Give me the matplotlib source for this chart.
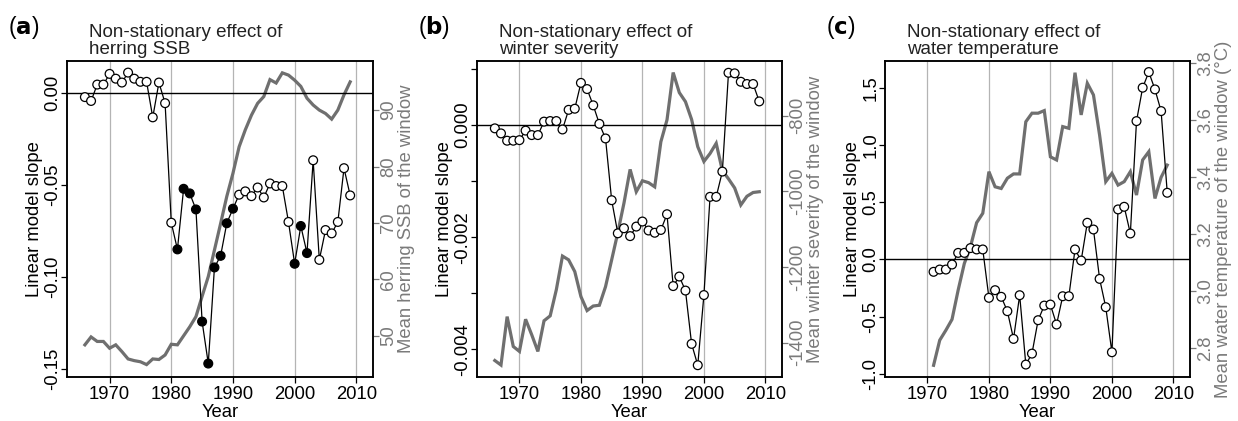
import numpy as np
import matplotlib
matplotlib.use("Agg")
import matplotlib.pyplot as plt

plt.rcParams['font.family'] = ['Liberation Sans', 'DejaVu Sans']
plt.rcParams['axes.unicode_minus'] = False

"""data"""
years_ab = list(range(1966, 2010))
years_c = list(range(1971, 2010))

slope_ssb = [-0.0023, -0.0044, 0.0045, 0.0045, 0.0103, 0.0077, 0.0056, 0.0110, 0.0077, 0.0060,
             0.0060, -0.0133, 0.0056, -0.0056, -0.0705, -0.0850, -0.0521, -0.0546, -0.0633, -0.1242,
             -0.1470, -0.0948, -0.0885, -0.0708, -0.0629, -0.0553, -0.0535, -0.0561, -0.0514, -0.0568,
             -0.0492, -0.0506, -0.0506, -0.0701, -0.0928, -0.0723, -0.0870, -0.0366, -0.0907, -0.0745,
             -0.0763, -0.0701, -0.0409, -0.0557]
signif_ssb = [0, 0, 0, 0, 0, 0, 0, 0, 0, 0,
              0, 0, 0, 0, 0, 1, 1, 1, 1, 1,
              1, 1, 1, 1, 1, 0, 0, 0, 0, 0,
              0, 0, 0, 0, 1, 1, 1, 0, 0, 0,
              0, 0, 0, 0]
mean_ssb = [48.4, 49.8, 49.0, 49.0, 47.8, 48.4, 47.2, 45.9, 45.6, 45.4,
            44.9, 45.9, 45.8, 46.6, 48.5, 48.4, 50.0, 51.6, 53.4, 57.0,
            60.5, 65.2, 69.9, 74.7, 78.8, 83.5, 86.5, 89.1, 91.2, 92.4,
            95.4, 94.8, 96.6, 96.2, 95.3, 94.2, 92.1, 90.9, 90.0, 89.4,
            88.4, 90.0, 92.7, 95.0]

slope_winter = [-0.00006, -0.00015, -0.00028, -0.00028, -0.00027, -0.00010, -0.00018, -0.00018, 0.00006, 0.00007,
                0.00007, -0.00008, 0.00027, 0.00029, 0.00075, 0.00064, 0.00035, 0.00002, -0.00024, -0.00134,
                -0.00193, -0.00184, -0.00198, -0.00181, -0.00172, -0.00188, -0.00192, -0.00187, -0.00159, -0.00287,
                -0.00270, -0.00295, -0.00390, -0.00428, -0.00303, -0.00128, -0.00128, -0.00083, 0.00093, 0.00092,
                0.00077, 0.00073, 0.00073, 0.00042]
mean_winter = [-1447, -1459, -1331, -1410, -1423, -1338, -1379, -1423, -1342, -1329,
               -1260, -1171, -1181, -1212, -1278, -1315, -1303, -1301, -1252, -1181,
               -1109, -1031, -942, -1001, -972, -977, -988, -869, -811, -686,
               -739, -763, -810, -882, -921, -900, -873, -945, -967, -991,
               -1036, -1013, -1003, -1001]

slope_temp = [-0.108, -0.088, -0.088, -0.044, 0.058, 0.058, 0.100, 0.088, 0.088, -0.336,
              -0.269, -0.327, -0.453, -0.696, -0.313, -0.921, -0.825, -0.532, -0.404, -0.395,
              -0.570, -0.322, -0.322, 0.088, -0.009, 0.322, 0.263, -0.170, -0.418, -0.813,
              0.439, 0.462, 0.228, 1.213, 1.506, 1.643, 1.491, 1.301, 0.585]
mean_temp = [2.741, 2.829, 2.864, 2.902, 3.005, 3.098, 3.157, 3.241, 3.274, 3.420,
             3.367, 3.361, 3.397, 3.412, 3.412, 3.595, 3.625, 3.625, 3.634, 3.472,
             3.461, 3.578, 3.572, 3.767, 3.619, 3.730, 3.689, 3.548, 3.385, 3.414,
             3.373, 3.385, 3.420, 3.338, 3.461, 3.490, 3.326, 3.400, 3.443]

year_ticks = [1970, 1980, 1990, 2000, 2010]

GREY = '#6f6f6f'
GREY_TXT = '#7a7a7a'
FS = 13.3


def draw_panel(fig, rect, letter, title, years, slope, env, signif,
               ylim, yticks, yticklabels, ylim2, yticks2, ylabel2):
    ax = fig.add_axes(rect)
    ax2 = ax.twinx()
    ax.set_zorder(ax2.get_zorder() + 1)
    ax.patch.set_visible(False)

    for yr in year_ticks:
        ax2.axvline(yr, color='#b4b4b4', lw=0.9, zorder=0)

    # environmental window mean (right axis)
    ax2.plot(years, env, color=GREY, lw=2.3, solid_joinstyle='miter')
    ax2.set_ylim(*ylim2)
    ax2.set_yticks(yticks2)
    ax2.tick_params(axis='y', colors=GREY_TXT, labelcolor=GREY_TXT, labelsize=FS,
                    labelrotation=90, length=4, width=0.9, pad=1)
    for lab in ax2.get_yticklabels():
        lab.set_va('center')
    ax2.set_ylabel(ylabel2, color=GREY_TXT, fontsize=FS, labelpad=1)

    # slope (left axis)
    ax.axhline(0, color='black', lw=1.0)
    ax.plot(years, slope, color='black', lw=0.9, zorder=3)
    fill = ['black' if s else 'white' for s in signif]
    ax.scatter(years, slope, s=40, facecolors=fill, edgecolors='black',
               linewidths=0.9, zorder=4)
    ax.set_ylim(*ylim)
    ax.set_yticks(yticks)
    ax.set_yticklabels(yticklabels)
    ax.tick_params(axis='y', labelsize=FS, labelrotation=90, length=4, width=0.9, pad=0)
    for lab in ax.get_yticklabels():
        lab.set_va('center')
    ax.set_ylabel('Linear model slope', fontsize=FS, labelpad=1)

    ax.set_xlim(1963.1, 2012.7)
    ax.set_xticks(year_ticks)
    ax.tick_params(axis='x', labelsize=FS, length=4, width=0.9, pad=2.5)
    ax.set_xlabel('Year', fontsize=FS, labelpad=0.5)

    for sp in ax.spines.values():
        sp.set_linewidth(1.1)
    for sp in ax2.spines.values():
        sp.set_linewidth(1.1)

    x0 = rect[0]
    fig.text(x0 - 0.048, 1 - 34 / 421, letter, fontsize=16.5, va='baseline')
    fig.text(x0 + 0.018, 1 - 58 / 421, title, fontsize=13.5, va='bottom',
             linespacing=1.0, color='#222222')
    return ax, ax2


fig = plt.figure(figsize=(12.38, 4.21), dpi=100)

H_BOT = 1 - 377 / 421
H = (377 - 61) / 421

draw_panel(fig, [67 / 1238, H_BOT, 306 / 1238, H], r'($\mathbf{a}$)',
           'Non-stationary effect of\nherring SSB',
           years_ab, slope_ssb, mean_ssb, signif_ssb,
           (-0.1543, 0.0173), [-0.15, -0.10, -0.05, 0.00],
           ['-0.15', '-0.10', '-0.05', '0.00'],
           (42.7, 98.7), [50, 60, 70, 80, 90],
           'Mean herring SSB of the window')

draw_panel(fig, [477 / 1238, H_BOT, 305 / 1238, H], r'($\mathbf{b}$)',
           'Non-stationary effect of\nwinter severity',
           years_ab, slope_winter, mean_winter, [0] * len(years_ab),
           (-0.00449, 0.00114), [-0.004, -0.003, -0.002, -0.001, 0.000, 0.001],
           ['-0.004', '', '-0.002', '', '0.000', ''],
           (-1490.6, -655.5), [-1400, -1200, -1000, -800],
           'Mean winter severity of the window')

draw_panel(fig, [885 / 1238, H_BOT, 305 / 1238, H], r'($\mathbf{c}$)',
           'Non-stationary effect of\nwater temperature',
           years_c, slope_temp, mean_temp, [0] * len(years_c),
           (-1.03, 1.74), [-1.0, -0.5, 0.0, 0.5, 1.0, 1.5],
           ['-1.0', '-0.5', '0.0', '0.5', '1.0', '1.5'],
           (2.70, 3.808), [2.8, 3.0, 3.2, 3.4, 3.6, 3.8],
           'Mean water temperature of the window (°C)')

fig.savefig('out.png', dpi=100)
